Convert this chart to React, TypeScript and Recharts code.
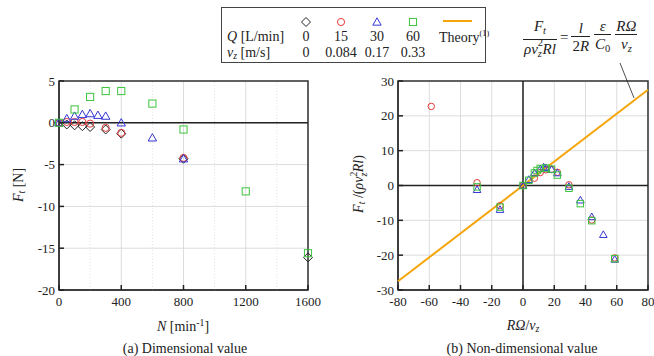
import React from 'react'
import {
  ScatterChart,
  Scatter,
  XAxis,
  YAxis,
  CartesianGrid,
  ReferenceLine,
  ReferenceArea,
} from 'recharts'

const serif = '"Liberation Serif", "Times New Roman", serif'

// (a) dimensional value: rotational speed N [1/min] vs lateral force Ft [N]
const nQ0 = [0, 50, 100, 150, 200, 300, 400, 800, 1600]
const ftQ0 = [0, -0.2, -0.3, -0.4, -0.5, -0.8, -1.3, -4.3, -16.1]
const nQ15 = [0, 50, 100, 150, 200, 300, 400, 800]
const ftQ15 = [0, 0.1, 0.1, 0.1, -0.1, -0.6, -1.2, -4.2]
const nQ30 = [0, 50, 100, 150, 200, 250, 300, 400, 600, 800]
const ftQ30 = [0, 0.5, 0.8, 1.0, 1.1, 0.9, 0.8, 0, -1.8, -4.3]
const nQ60 = [0, 100, 200, 300, 400, 600, 800, 1200, 1600]
const ftQ60 = [0, 1.6, 3.1, 3.8, 3.8, 2.3, -0.8, -8.2, -15.6]

// (b) non-dimensional value: RΩ/vz vs Ft/(ρ vz² R l)
const xQ15 = [-58.7, -29.4, -14.7, 0, 7.3, 11, 14.7, 18.3, 22, 29.4, 44, 58.7]
const yQ15 = [22.7, 0.8, -5.8, 0, 2.1, 3.7, 4.5, 4.6, 3.8, 0.2, -9.9, -20.8]
const xQ30 = [-29.4, -14.7, 0, 3.7, 7.3, 11, 13.2, 14.7, 18.3, 22, 29.4, 36.7, 44, 51.4, 58.7]
const yQ30 = [-1.2, -6.9, 0, 1.7, 3.6, 4.8, 5.3, 5.1, 4.6, 3.6, -0.3, -4.2, -9.0, -14.1, -21.2]
const xQ60 = [-29.4, -14.7, 0, 3.7, 7.3, 9, 11, 14.7, 18.3, 22, 29.4, 36.7, 44, 58.7]
const yQ60 = [-0.4, -6.2, 0, 1.5, 3.6, 4.3, 4.9, 5.0, 4.7, 3.0, -0.8, -5.2, -10.1, -21.0]
const xTheory = [-80, 80]
const yTheory = [-27.5, 27.5]

const ticksN = [0, 400, 800, 1200, 1600]
const minorN = [200, 600, 1000, 1400]
const ticksFt = [5, 0, -5, -10, -15, -20]
const ticksX2 = [-80, -60, -40, -20, 0, 20, 40, 60, 80]
const ticksY2 = [30, 20, 10, 0, -10, -20, -30]

const zip = (xs: number[], ys: number[]) => xs.map((x, i) => ({ x, y: ys[i] }))

const BLACK = '#222'
const RED = '#e23a3a'
const BLUE = '#3535d6'
const GREEN = '#3cc43c'
const ORANGE = '#f5a50a'

const makeShape = (kind: string, color: string, s: number) => (p: any) => {
  const { cx, cy } = p
  if (cx == null || cy == null) return <g />
  if (kind === 'diamond')
    return <path d={`M${cx},${cy - s}L${cx + s},${cy}L${cx},${cy + s}L${cx - s},${cy}Z`} fill="none" stroke={color} strokeWidth={1} />
  if (kind === 'circle') return <circle cx={cx} cy={cy} r={s * 0.85} fill="none" stroke={color} strokeWidth={1} />
  if (kind === 'triangle')
    return <path d={`M${cx},${cy - s}L${cx + s},${cy + s * 0.75}L${cx - s},${cy + s * 0.75}Z`} fill="none" stroke={color} strokeWidth={1} />
  return <rect x={cx - s * 0.85} y={cy - s * 0.85} width={s * 1.7} height={s * 1.7} fill="none" stroke={color} strokeWidth={1} />
}

const XTick = (p: any) => {
  const { x, y, payload } = p
  return (
    <g>
      <line x1={x} x2={x} y1={y - 7} y2={y - 12} stroke={BLACK} strokeWidth={1.5} />
      <text x={x} y={y} dy="0.71em" textAnchor="middle" fill={BLACK} style={{ fontFamily: serif, fontSize: 13 }}>
        {payload.value}
      </text>
    </g>
  )
}

const YTick = (p: any) => {
  const { x, y, payload } = p
  return (
    <g>
      <line x1={x + 4} x2={x + 9} y1={y} y2={y} stroke={BLACK} strokeWidth={1.5} />
      <text x={x} y={y} dy="0.355em" textAnchor="end" fill={BLACK} style={{ fontFamily: serif, fontSize: 13 }}>
        {payload.value}
      </text>
    </g>
  )
}

const Frac = ({ num, den }: { num: React.ReactNode; den: React.ReactNode }) => (
  <span style={{ display: 'inline-flex', flexDirection: 'column', alignItems: 'center', margin: '0 2px' }}>
    <span style={{ lineHeight: '16px', padding: '0 1px' }}>{num}</span>
    <span style={{ borderTop: '1px solid #222', lineHeight: '18px', padding: '0 1px', alignSelf: 'stretch', textAlign: 'center' }}>{den}</span>
  </span>
)

const sub = (t: string) => <span style={{ fontSize: '0.7em', verticalAlign: '-0.25em', fontStyle: 'italic' }}>{t}</span>

// stacked superscript 2 over subscript z
const SupSub = ({ sup, sb }: { sup: string; sb: string }) => (
  <span style={{ position: 'relative', display: 'inline-block', width: '0.45em', height: '1em', fontSize: '0.7em' }}>
    <span style={{ position: 'absolute', left: 0, top: '-0.45em', lineHeight: 1 }}>{sup}</span>
    <span style={{ position: 'absolute', left: 0, top: '0.55em', lineHeight: 1, fontStyle: 'italic' }}>{sb}</span>
  </span>
)

const abs = (left: number, top: number, extra: React.CSSProperties = {}): React.CSSProperties => ({
  position: 'absolute',
  left,
  top,
  fontFamily: serif,
  color: BLACK,
  whiteSpace: 'nowrap',
  ...extra,
})

export default function App() {
  return (
    <div style={{ position: 'absolute', left: 0, top: 0, width: 654, height: 356, background: '#fff', overflow: 'hidden', fontFamily: serif }}>
      {/* (a) dimensional */}
      <div style={{ position: 'absolute', left: 0, top: 0 }}>
        <ScatterChart width={330} height={356} margin={{ top: 81, right: 22, bottom: 36, left: 19 }}>
          <CartesianGrid stroke="#dcdcdc" />
          {minorN.map((n) => (
            <ReferenceLine key={n} x={n} stroke="#e2e2e2" strokeDasharray="1 2" />
          ))}
          <ReferenceLine y={0} stroke={BLACK} strokeWidth={1.5} />
          <ReferenceArea x1={0} x2={1600} y1={-20} y2={5} fill="none" stroke="#333" strokeWidth={1.5} />
          <XAxis
            type="number"
            dataKey="x"
            domain={[0, 1600]}
            ticks={ticksN}
            interval={0}
            height={30}
            tickSize={0}
            tickMargin={7}
            tickLine={false}
            axisLine={{ stroke: '#333', strokeWidth: 1.5 }}
            tick={<XTick />}
          />
          <YAxis
            type="number"
            dataKey="y"
            domain={[-20, 5]}
            ticks={ticksFt}
            interval={0}
            width={40}
            tickSize={0}
            tickMargin={4}
            tickLine={false}
            axisLine={{ stroke: '#333', strokeWidth: 1.5 }}
            tick={<YTick />}
          />
          <Scatter data={zip(nQ0, ftQ0)} shape={makeShape('diamond', BLACK, 4.5)} isAnimationActive={false} />
          <Scatter data={zip(nQ15, ftQ15)} shape={makeShape('circle', RED, 4.2)} isAnimationActive={false} />
          <Scatter data={zip(nQ30, ftQ30)} shape={makeShape('triangle', BLUE, 4.2)} isAnimationActive={false} />
          <Scatter data={zip(nQ60, ftQ60)} shape={makeShape('square', GREEN, 4.2)} isAnimationActive={false} />
        </ScatterChart>
      </div>

      {/* (b) non-dimensional */}
      <div style={{ position: 'absolute', left: 330, top: 0 }}>
        <ScatterChart width={324} height={356} margin={{ top: 81, right: 6, bottom: 36, left: 28 }}>
          <CartesianGrid stroke="#dcdcdc" />
          <ReferenceLine y={0} stroke={BLACK} strokeWidth={1.5} />
          <ReferenceLine x={0} stroke={BLACK} strokeWidth={1.5} />
          <ReferenceArea x1={-80} x2={80} y1={-30} y2={30} fill="none" stroke="#333" strokeWidth={1.5} />
          <XAxis
            type="number"
            dataKey="x"
            domain={[-80, 80]}
            ticks={ticksX2}
            interval={0}
            height={30}
            tickSize={0}
            tickMargin={7}
            tickLine={false}
            axisLine={{ stroke: '#333', strokeWidth: 1.5 }}
            tick={<XTick />}
          />
          <YAxis
            type="number"
            dataKey="y"
            domain={[-30, 30]}
            ticks={ticksY2}
            interval={0}
            width={40}
            tickSize={0}
            tickMargin={4}
            tickLine={false}
            axisLine={{ stroke: '#333', strokeWidth: 1.5 }}
            tick={<YTick />}
          />
          <Scatter
            data={zip(xTheory, yTheory)}
            line={{ stroke: ORANGE, strokeWidth: 2 }}
            shape={() => <g />}
            isAnimationActive={false}
          />
          <Scatter data={zip(xQ15, yQ15)} shape={makeShape('circle', RED, 3.8)} isAnimationActive={false} />
          <Scatter data={zip(xQ30, yQ30)} shape={makeShape('triangle', BLUE, 3.8)} isAnimationActive={false} />
          <Scatter data={zip(xQ60, yQ60)} shape={makeShape('square', GREEN, 3.8)} isAnimationActive={false} />
        </ScatterChart>
      </div>

      {/* axis titles */}
      <div style={abs(19, 185, { fontSize: 14, transform: 'translate(-50%, -50%) rotate(-90deg)' })}>
        <i>F</i>
        {sub('t')} [N]
      </div>
      <div style={abs(359, 184, { fontSize: 14, transform: 'translate(-50%, -50%) rotate(-90deg)' })}>
        <i>F</i>
        {sub('t')} /(<i>ρv</i>
        <SupSub sup="2" sb="z" />
        <i>Rl</i>)
      </div>
      <div style={abs(183, 326, { fontSize: 14, transform: 'translate(-50%, -50%)' })}>
        <i>N</i> [min<sup style={{ fontSize: '0.7em' }}>-1</sup>]
      </div>
      <div style={abs(523, 326, { fontSize: 14, transform: 'translate(-50%, -50%)' })}>
        <i>RΩ</i>/<i>v</i>
        {sub('z')}
      </div>
      <div style={abs(185, 349, { fontSize: 14, transform: 'translate(-50%, -50%)' })}>(a) Dimensional value</div>
      <div style={abs(522, 349, { fontSize: 14, transform: 'translate(-50%, -50%)' })}>(b) Non-dimensional value</div>

      {/* legend box */}
      <div style={abs(221, 7, { width: 263, height: 54, border: '1.5px solid #444', fontSize: 14 })}>
        <svg width={263} height={54} style={{ position: 'absolute', left: 0, top: 0 }}>
          {makeShape('diamond', BLACK, 4.5)({ cx: 84, cy: 14 })}
          {makeShape('circle', RED, 4.2)({ cx: 119, cy: 14 })}
          {makeShape('triangle', BLUE, 4.2)({ cx: 155, cy: 14 })}
          {makeShape('square', GREEN, 4.2)({ cx: 191, cy: 14 })}
          <line x1={221} x2={250} y1={13} y2={13} stroke={ORANGE} strokeWidth={2} />
        </svg>
        <div style={abs(5, 21)}>
          <i>Q</i> [L/min]
        </div>
        <div style={abs(5, 37)}>
          <i>v</i>
          {sub('z')} [m/s]
        </div>
        {[
          ['0', '0', 84],
          ['15', '0.084', 119],
          ['30', '0.17', 155],
          ['60', '0.33', 191],
        ].map(([q, v, cx]) => (
          <React.Fragment key={q as string}>
            <div style={abs(cx as number, 21, { transform: 'translateX(-50%)' })}>{q}</div>
            <div style={abs(cx as number, 37, { transform: 'translateX(-50%)' })}>{v}</div>
          </React.Fragment>
        ))}
        <div style={abs(217, 21)}>
          Theory<sup style={{ fontSize: '0.6em' }}>(1)</sup>
        </div>
      </div>

      {/* formula */}
      <div style={abs(521, 18, { fontSize: 15, display: 'flex', alignItems: 'center' })}>
        <Frac
          num={
            <>
              <i>F</i>
              {sub('t')}
            </>
          }
          den={
            <>
              <i>ρv</i>
              <SupSub sup="2" sb="z" />
              <i>Rl</i>
            </>
          }
        />
        <span style={{ margin: '0 1px' }}>=</span>
        <Frac num={<i>l</i>} den={<>2<i>R</i></>} />
        <Frac
          num={<i>ε</i>}
          den={
            <>
              <i>C</i>
              <span style={{ fontSize: '0.7em', verticalAlign: '-0.25em' }}>0</span>
            </>
          }
        />
        <Frac
          num={<i>RΩ</i>}
          den={
            <>
              <i>v</i>
              {sub('z')}
            </>
          }
        />
      </div>
      <svg width={654} height={356} style={{ position: 'absolute', left: 0, top: 0, pointerEvents: 'none' }}>
        <line x1={620} y1={63} x2={634} y2={98} stroke={BLACK} strokeWidth={0.8} />
      </svg>
    </div>
  )
}
